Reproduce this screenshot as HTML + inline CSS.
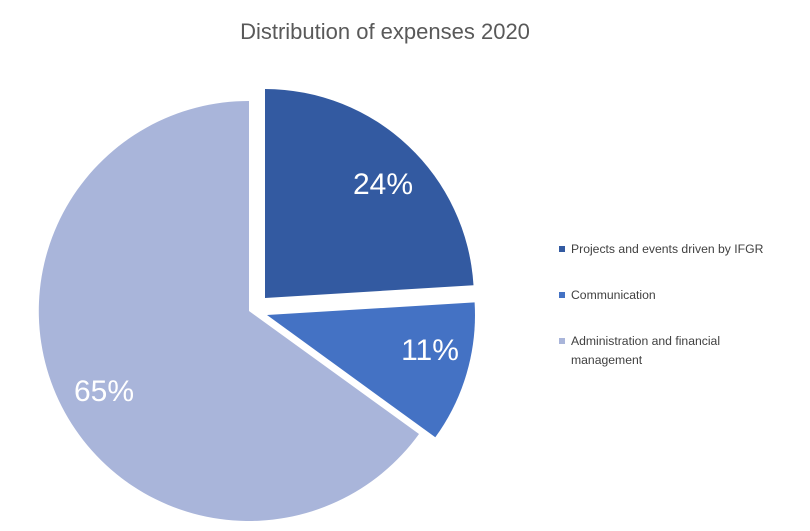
<!DOCTYPE html>
<html><head><style>
body{margin:0;background:#fff;}
svg{display:block;font-family:"Liberation Sans",sans-serif;}
</style></head><body>
<svg width="810" height="531" viewBox="0 0 810 531">
<rect width="810" height="531" fill="#fff"/>
<text x="385" y="39" text-anchor="middle" font-size="22" fill="#595959">Distribution of expenses 2020</text>
<!-- 65% -->
<path d="M249,311 L419,434 A210,210 0 1 1 249,101 Z" fill="#A9B5DA"/>
<!-- 24% -->
<path d="M265,298 L265,89 A209,209 0 0 1 473.5,285.3 Z" fill="#335AA1"/>
<!-- 11% -->
<path d="M267,315 L474.6,302.4 A208,208 0 0 1 435.3,437.3 Z" fill="#4472C4"/>
<g fill="#fff" font-size="30" text-anchor="middle">
<text x="383" y="194">24%</text>
<text x="430" y="360">11%</text>
<text x="104" y="401">65%</text>
</g>
<g font-size="12.2" fill="#404040">
<rect x="559" y="246" width="6" height="6" fill="#335AA1"/>
<text x="571" y="253">Projects and events driven by IFGR</text>
<rect x="559" y="292" width="6" height="6" fill="#4472C4"/>
<text x="571" y="299">Communication</text>
<rect x="559" y="338" width="6" height="6" fill="#A9B5DA"/>
<text x="571" y="345">Administration and financial</text>
<text x="571" y="364">management</text>
</g>
</svg>
</body></html>
